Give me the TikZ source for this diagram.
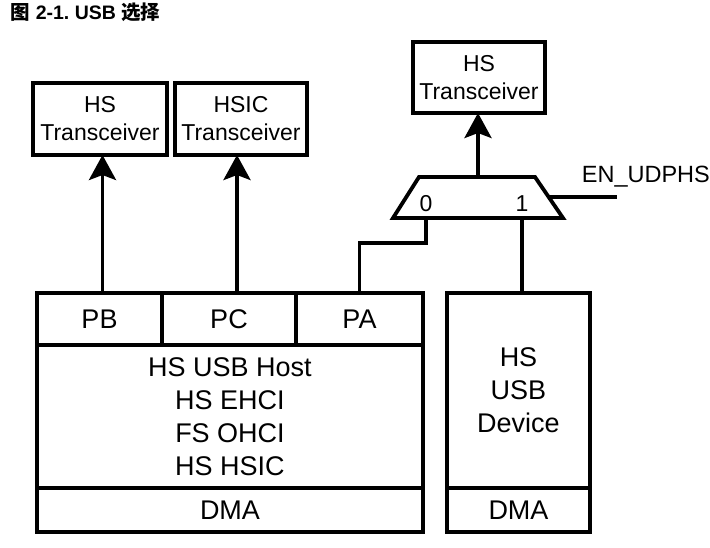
\documentclass[tikz,border=0pt]{standalone}
\usepackage{fontspec}
\setmainfont{Liberation Sans}
\newfontfamily\cjk{Noto Sans CJK SC}
\usetikzlibrary{arrows.meta}
\tikzset{>={Stealth[length=25pt,width=27pt,inset=5pt]}}
\tikzset{
  blk/.style={draw, inner sep=0pt, outer sep=0pt, align=center,
    font=\fontsize{27}{33}\selectfont},
  xcvr/.style={blk, minimum width=134pt, minimum height=72pt,
    font=\fontsize{23}{28}\selectfont},
  cell/.style={blk, minimum height=52pt},
  dmabox/.style={blk, minimum height=44pt}
}

\begin{document}
\begin{tikzpicture}[x=1pt, y=-1pt, line width=3.8pt]
  \useasboundingbox (0,0) rectangle (710,548);

  % title
  \node[anchor=base west, inner sep=0pt] (title) at (9,20)
    {\fontsize{19.5}{22}\selectfont\bfseries{\cjk 图} 2-1.\ USB {\cjk 选择}};

  % transceivers
  \node[xcvr] (xcvrb) at (100,119) {HS\\Transceiver};
  \node[xcvr, minimum width=132pt] (xcvrc) at (241,119) {HSIC\\Transceiver};
  \node[xcvr, minimum width=132pt, minimum height=71pt] (xcvra) at (479,77.5) {HS\\Transceiver};

  % host controller
  \node[cell, minimum width=125pt] (pb) at (99.5,319) {PB};
  \node[cell, minimum width=134pt] (pc) at (229,319) {PC};
  \node[cell, minimum width=127pt] (pa) at (359.5,319) {PA};
  \node[blk, minimum width=386pt, minimum height=143pt] (host) at (230,416.5)
    {HS USB Host\\HS EHCI\\FS OHCI\\HS HSIC};
  \node[dmabox, minimum width=386pt] (hdma) at (230,510) {DMA};

  % device controller
  \node[blk, minimum width=143pt, minimum height=195pt] (dev) at (518.5,390.5)
    {HS\\USB\\Device};
  \node[dmabox, minimum width=143pt] (ddma) at (518.5,510) {DMA};

  % mux
  \draw (393,218) -- (419,177) -- (535,177) -- (563,218) -- cycle;
  \coordinate (muxout) at (478,177);
  \coordinate (mux0) at (426,218);
  \coordinate (mux1) at (522,218);
  \coordinate (muxsel) at (549,197);
  \coordinate (selend) at (617,197);
  \node[font=\fontsize{23}{26}\selectfont] (in0) at (426,204) {0};
  \node[font=\fontsize{23}{26}\selectfont] (in1) at (522,204) {1};
  \node[anchor=west, inner sep=0pt, font=\fontsize{23.5}{26}\selectfont] (ensel) at (580,177) {EN\_UDPHS};

  \draw (muxsel) -- (selend); % select
  \draw[->] (muxout) -- (muxout |- xcvra.south); % mux->HS
  \draw (mux0) -- ++(0,25) -| (pa.north); % PA->mux
  \draw (mux1) -- (mux1 |- dev.north); % dev->mux

  \draw[->] ([xshift=3pt]pb.north) -- ([xshift=3pt]pb.north |- xcvrb.south); % PB->HS
  \draw[->] ([xshift=8pt]pc.north) -- ([xshift=8pt]pc.north |- xcvrc.south); % PC->HSIC

\end{tikzpicture}
\end{document}
